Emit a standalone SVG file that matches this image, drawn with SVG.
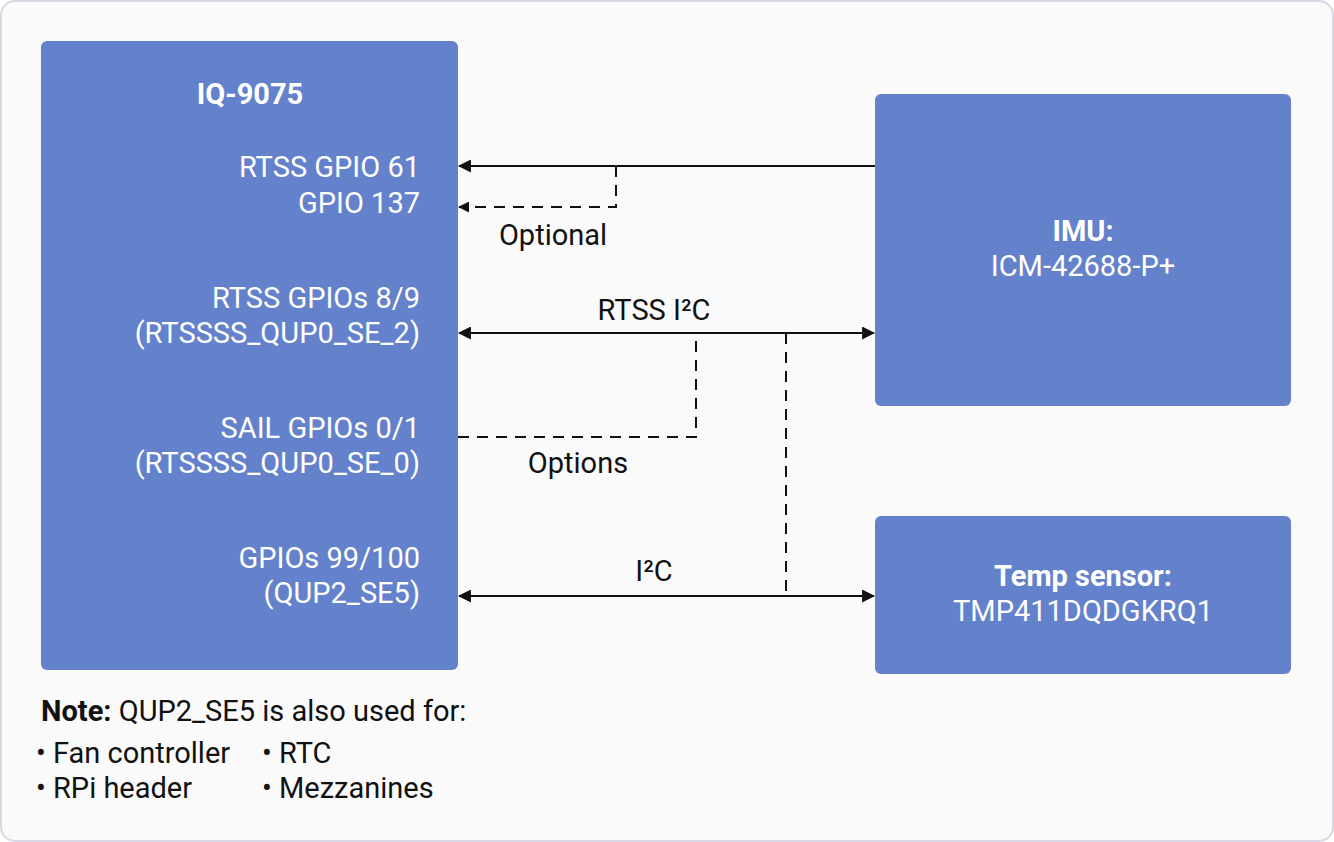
<svg xmlns="http://www.w3.org/2000/svg" width="1334" height="842" viewBox="0 0 1334 842">
<style>
.box{fill:#6481cc}
.t{font-family:Roboto,"Liberation Sans",sans-serif;font-size:29px}
.w{fill:#ffffff}
.k{fill:#111111}
.b{font-weight:bold}
.ln{stroke:#111111;stroke-width:2;fill:none}
.d{stroke-dasharray:11 8}
</style>
<defs>
<marker id="ah" viewBox="0 0 12 12" refX="11" refY="6" markerWidth="13" markerHeight="13" markerUnits="userSpaceOnUse" orient="auto-start-reverse">
<path d="M0,0 L12,6 L0,12 z" fill="#111111"/>
</marker>
<marker id="ahs" viewBox="0 0 12 12" refX="11" refY="6" markerWidth="11" markerHeight="11" markerUnits="userSpaceOnUse" orient="auto-start-reverse">
<path d="M0,0 L12,6 L0,12 z" fill="#111111"/>
</marker>
</defs>
<rect x="1" y="1" width="1332" height="840" rx="14" fill="#fafafa" stroke="#d8d8e4" stroke-width="2"/>
<g id="iq9075">
<rect class="box" x="41" y="41" width="417" height="629" rx="6"/>
<text class="t w b" x="250" y="104" text-anchor="middle">IQ-9075</text>
<text class="t w" x="420" y="177" text-anchor="end">RTSS GPIO 61</text>
<text class="t w" x="420" y="213" text-anchor="end">GPIO 137</text>
<text class="t w" x="420" y="308" text-anchor="end">RTSS GPIOs 8/9</text>
<text class="t w" x="420" y="343" text-anchor="end">(RTSSSS_QUP0_SE_2)</text>
<text class="t w" x="420" y="438" text-anchor="end">SAIL GPIOs 0/1</text>
<text class="t w" x="420" y="473" text-anchor="end">(RTSSSS_QUP0_SE_0)</text>
<text class="t w" x="420" y="568" text-anchor="end">GPIOs 99/100</text>
<text class="t w" x="420" y="603" text-anchor="end">(QUP2_SE5)</text>
</g>
<g id="imu">
<rect class="box" x="875" y="94" width="416" height="312" rx="6"/>
<text class="t w b" x="1083" y="241" text-anchor="middle">IMU:</text>
<text class="t w" x="1083" y="276" text-anchor="middle">ICM-42688-P+</text>
</g>
<g id="temp">
<rect class="box" x="875" y="516" width="416" height="158" rx="6"/>
<text class="t w b" x="1083" y="586" text-anchor="middle">Temp sensor:</text>
<text class="t w" x="1083" y="621" text-anchor="middle">TMP411DQDGKRQ1</text>
</g>
<g id="connectors">
<line class="ln" x1="875" y1="166" x2="459" y2="166" marker-end="url(#ah)"/>
<polyline class="ln d" points="616,166 616,207 459,207" marker-end="url(#ahs)"/>
<line class="ln" x1="459" y1="333" x2="874" y2="333" marker-start="url(#ah)" marker-end="url(#ah)"/>
<polyline class="ln d" points="458,437 696,437 696,333"/>
<line class="ln d" x1="786" y1="333" x2="786" y2="596"/>
<line class="ln" x1="459" y1="596" x2="874" y2="596" marker-start="url(#ah)" marker-end="url(#ah)"/>
</g>
<g id="labels">
<text class="t k" x="553" y="245" text-anchor="middle">Optional</text>
<text class="t k" x="654" y="320" text-anchor="middle">RTSS I²C</text>
<text class="t k" x="578" y="473" text-anchor="middle">Options</text>
<text class="t k" x="654" y="581" text-anchor="middle">I²C</text>
</g>
<g id="note">
<text class="t k" x="41" y="721"><tspan class="b">Note:</tspan> QUP2_SE5 is also used for:</text>
<text class="t k" x="36" y="763">• Fan controller</text>
<text class="t k" x="36" y="798">• RPi header</text>
<text class="t k" x="262" y="763">• RTC</text>
<text class="t k" x="262" y="798">• Mezzanines</text>
</g>
</svg>
